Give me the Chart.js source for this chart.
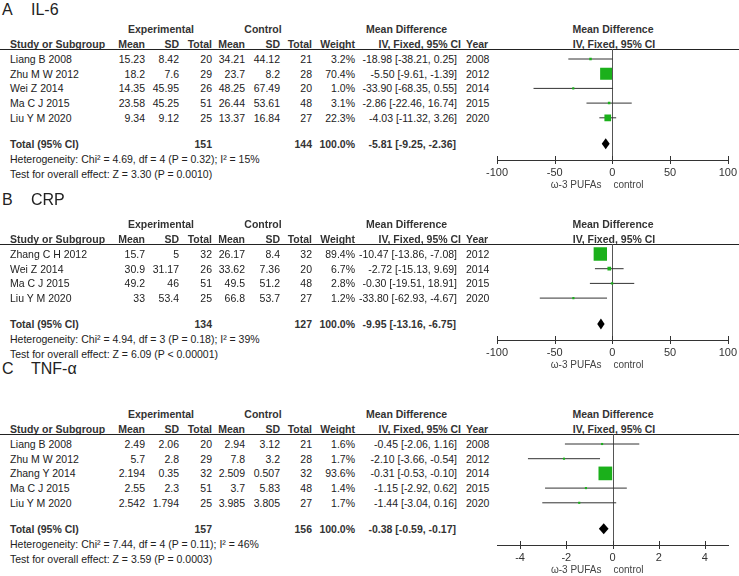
<!DOCTYPE html>
<html>
<head>
<meta charset="utf-8">
<script src="https://cdn.jsdelivr.net/npm/chart.js@4.4.0/dist/chart.umd.min.js"></script>
<style>
body { margin:0; background:#fff; width:739px; height:576px; overflow:hidden; position:relative;
       font-family:"Liberation Sans", Arial, sans-serif; color:#222; }
.t { position:absolute; white-space:nowrap; font-size:10.5px; line-height:14px; height:14px; }
.b { font-weight:bold; color:#333; }
.ttl { position:absolute; white-space:nowrap; font-size:16px; line-height:20px; height:20px; color:#222; }
.hline { position:absolute; left:0; width:739px; height:1px; background:#222; }
.box { position:absolute; left:470px; width:269px; }
</style>
</head>
<body>
<script>
// ---- A: IL-6 ----
var studiesA = ['Liang B 2008', 'Zhu M W 2012', 'Wei Z 2014', 'Ma C J 2015', 'Liu Y M 2020'];
var expMeanA = [15.23, 18.2, 14.35, 23.58, 9.34];
var expSdA = [8.42, 7.6, 45.95, 45.25, 9.12];
var expNA = [20, 29, 26, 51, 25];
var ctlMeanA = [34.21, 23.7, 48.25, 26.44, 13.37];
var ctlSdA = [44.12, 8.2, 67.49, 53.61, 16.84];
var ctlNA = [21, 28, 20, 48, 27];
var weightA = [3.2, 70.4, 1.0, 3.1, 22.3];
var mdA = [-18.98, -5.50, -33.90, -2.86, -4.03];
var loA = [-38.21, -9.61, -68.35, -22.46, -11.32];
var hiA = [0.25, -1.39, 0.55, 16.74, 3.26];
var yearA = [2008, 2012, 2014, 2015, 2020];
var totalA = [-5.81, -9.25, -2.36];
var totalNA = [151, 144];
var hetA = 'Heterogeneity: Chi\u00b2 = 4.69, df = 4 (P = 0.32); I\u00b2 = 15%';
var testA = 'Test for overall effect: Z = 3.30 (P = 0.0010)';
var ticksA = [-100, -50, 0, 50, 100];

// ---- B: CRP ----
var studiesB = ['Zhang C H 2012', 'Wei Z 2014', 'Ma C J 2015', 'Liu Y M 2020'];
var expMeanB = [15.7, 30.9, 49.2, 33];
var expSdB = [5, 31.17, 46, 53.4];
var expNB = [32, 26, 51, 25];
var ctlMeanB = [26.17, 33.62, 49.5, 66.8];
var ctlSdB = [8.4, 7.36, 51.2, 53.7];
var ctlNB = [32, 20, 48, 27];
var weightB = [89.4, 6.7, 2.8, 1.2];
var mdB = [-10.47, -2.72, -0.30, -33.80];
var loB = [-13.86, -15.13, -19.51, -62.93];
var hiB = [-7.08, 9.69, 18.91, -4.67];
var yearB = [2012, 2014, 2015, 2020];
var totalB = [-9.95, -13.16, -6.75];
var totalNB = [134, 127];
var hetB = 'Heterogeneity: Chi\u00b2 = 4.94, df = 3 (P = 0.18); I\u00b2 = 39%';
var testB = 'Test for overall effect: Z = 6.09 (P < 0.00001)';
var ticksB = [-100, -50, 0, 50, 100];

// ---- C: TNF-a ----
var studiesC = ['Liang B 2008', 'Zhu M W 2012', 'Zhang Y 2014', 'Ma C J 2015', 'Liu Y M 2020'];
var expMeanC = [2.49, 5.7, 2.194, 2.55, 2.542];
var expSdC = [2.06, 2.8, 0.35, 2.3, 1.794];
var expNC = [20, 29, 32, 51, 25];
var ctlMeanC = [2.94, 7.8, 2.509, 3.7, 3.985];
var ctlSdC = [3.12, 3.2, 0.507, 5.83, 3.805];
var ctlNC = [21, 28, 32, 48, 27];
var weightC = [1.6, 1.7, 93.6, 1.4, 1.7];
var mdC = [-0.45, -2.10, -0.31, -1.15, -1.44];
var loC = [-2.06, -3.66, -0.53, -2.92, -3.04];
var hiC = [1.16, -0.54, -0.10, 0.62, 0.16];
var yearC = [2008, 2012, 2014, 2015, 2020];
var totalC = [-0.38, -0.59, -0.17];
var totalNC = [157, 156];
var hetC = 'Heterogeneity: Chi\u00b2 = 7.44, df = 4 (P = 0.11); I\u00b2 = 46%';
var testC = 'Test for overall effect: Z = 3.59 (P = 0.0003)';
var ticksC = [-4, -2, 0, 2, 4];

var ROW = 14.7;       // px between study rows
var FIRST = 10;       // header line -> first row
var TOT = 26;         // last row -> total row
var AXIS = 42;        // last row -> x axis line
var GREEN = '#1bb01b';

function txt(s, x, y, align, cls) {
    var d = document.createElement('div');
    d.className = 't' + (cls ? ' ' + cls : '');
    d.textContent = s;
    if (align === 'r') { d.style.left = (x - 300) + 'px'; d.style.width = '300px'; d.style.textAlign = 'right'; }
    else if (align === 'c') { d.style.left = (x - 150) + 'px'; d.style.width = '300px'; d.style.textAlign = 'center'; }
    else { d.style.left = x + 'px'; }
    d.style.top = (y - 7) + 'px';
    document.body.appendChild(d);
}

function ci(m, l, h) {
    return m.toFixed(2) + ' [' + l.toFixed(2) + ', ' + h.toFixed(2) + ']';
}

// draws zero line, crossing tick marks, diamond and the direction labels
var forestDecor = {
    id: 'forestDecor',
    beforeDatasetsDraw: function(chart) {
        var ctx = chart.ctx, x = chart.scales.x, a = chart.chartArea;
        var x0 = Math.round(x.getPixelForValue(0)) + 0.5;
        ctx.save();
        ctx.strokeStyle = '#555';
        ctx.lineWidth = 1;
        ctx.beginPath();
        ctx.moveTo(x0, a.top);
        ctx.lineTo(x0, a.bottom);
        ctx.stroke();
        ctx.restore();
    },
    afterDraw: function(chart) {
        var ctx = chart.ctx, x = chart.scales.x, y = chart.scales.y, a = chart.chartArea;
        var p = chart.options.plugins.forestDecor;
        ctx.save();
        ctx.strokeStyle = '#333';
        ctx.lineWidth = 1;
        x.ticks.forEach(function(t) {
            var px = Math.round(x.getPixelForValue(t.value)) + 0.5;
            ctx.beginPath();
            ctx.moveTo(px, a.bottom - 4);
            ctx.lineTo(px, a.bottom + 4);
            ctx.stroke();
        });
        // summary diamond
        var ty = y.getPixelForValue(p.totalY);
        ctx.fillStyle = '#000';
        ctx.beginPath();
        ctx.moveTo(x.getPixelForValue(p.total[1]), ty);
        ctx.lineTo(x.getPixelForValue(p.total[0]), ty - 5.5);
        ctx.lineTo(x.getPixelForValue(p.total[2]), ty);
        ctx.lineTo(x.getPixelForValue(p.total[0]), ty + 5.5);
        ctx.closePath();
        ctx.fill();
        // favours labels
        var x0 = x.getPixelForValue(0);
        ctx.fillStyle = '#444';
        ctx.font = '10px "Liberation Sans", Arial, sans-serif';
        ctx.textBaseline = 'middle';
        ctx.textAlign = 'right';
        ctx.fillText('\u03c9-3 PUFAs', x0 - 11, a.bottom + 25);
        ctx.textAlign = 'left';
        ctx.fillText('control', x0 + 1, a.bottom + 25);
        ctx.restore();
    }
};

function panel(p) {
    var n = p.studies.length;
    var base = p.base;
    // title
    var t1 = document.createElement('div');
    t1.className = 'ttl'; t1.textContent = p.letter;
    t1.style.left = '2px'; t1.style.top = (p.titleY - 10) + 'px';
    document.body.appendChild(t1);
    var t2 = document.createElement('div');
    t2.className = 'ttl'; t2.textContent = p.name;
    t2.style.left = '31px'; t2.style.top = (p.titleY - 10) + 'px';
    document.body.appendChild(t2);

    // headers
    var h1 = base - 20, h2 = base - 5;
    txt('Experimental', 161, h1, 'c', 'b');
    txt('Control', 263, h1, 'c', 'b');
    txt('Mean Difference', 366, h1, 'l', 'b');
    txt('Mean Difference', 613, h1, 'c', 'b');
    txt('Study or Subgroup', 10, h2, 'l', 'b');
    txt('Mean', 145, h2, 'r', 'b');
    txt('SD', 179, h2, 'r', 'b');
    txt('Total', 212, h2, 'r', 'b');
    txt('Mean', 245, h2, 'r', 'b');
    txt('SD', 280, h2, 'r', 'b');
    txt('Total', 312, h2, 'r', 'b');
    txt('Weight', 355, h2, 'r', 'b');
    txt('IV, Fixed, 95% CI', 461, h2, 'r', 'b');
    txt('Year', 466, h2, 'l', 'b');
    txt('IV, Fixed, 95% CI', 614, h2, 'c', 'b');
    var ln = document.createElement('div');
    ln.className = 'hline'; ln.style.top = base + 'px';
    document.body.appendChild(ln);

    // study rows
    for (var i = 0; i < n; i++) {
        var ry = base + FIRST + i * ROW;
        txt(p.studies[i], 10, ry, 'l');
        txt(String(p.expMean[i]), 145, ry, 'r');
        txt(String(p.expSd[i]), 179, ry, 'r');
        txt(String(p.expN[i]), 212, ry, 'r');
        txt(String(p.ctlMean[i]), 245, ry, 'r');
        txt(String(p.ctlSd[i]), 280, ry, 'r');
        txt(String(p.ctlN[i]), 312, ry, 'r');
        txt(p.weight[i].toFixed(1) + '%', 355, ry, 'r');
        txt(ci(p.md[i], p.lo[i], p.hi[i]), 457, ry, 'r');
        txt(String(p.year[i]), 466, ry, 'l');
    }
    var ty = base + FIRST + (n - 1) * ROW + TOT;
    txt('Total (95% CI)', 10, ty, 'l', 'b');
    txt(String(p.totalN[0]), 212, ty, 'r', 'b');
    txt(String(p.totalN[1]), 312, ty, 'r', 'b');
    txt('100.0%', 355, ty, 'r', 'b');
    txt(ci(p.total[0], p.total[1], p.total[2]), 456, ty, 'r', 'b');
    txt(p.het, 10, ty + 15, 'l');
    txt(p.test, 10, ty + 30, 'l');

    // forest plot
    var plotH = Math.round(FIRST + (n - 1) * ROW + AXIS);
    var H = plotH + 35;
    var box = document.createElement('div');
    box.className = 'box';
    box.style.top = base + 'px';
    box.style.height = H + 'px';
    var cv = document.createElement('canvas');
    cv.width = 269; cv.height = H;
    box.appendChild(cv);
    document.body.appendChild(box);

    var datasets = [{
        data: p.md.map(function(v, k) { return {x: v, y: k}; }),
        pointStyle: 'rect',
        pointRadius: p.weight.map(function(w) { return Math.max(1.5, Math.sqrt(w)); }),
        backgroundColor: GREEN,
        borderWidth: 0,
        order: 0
    }];
    p.lo.forEach(function(l, k) {
        datasets.push({
            data: [{x: l, y: k}, {x: p.hi[k], y: k}],
            showLine: true,
            pointRadius: 0,
            borderColor: '#333',
            borderWidth: 1,
            order: 1
        });
    });

    new Chart(cv, {
        type: 'scatter',
        data: { datasets: datasets },
        plugins: [forestDecor],
        options: {
            responsive: false,
            devicePixelRatio: 1,
            animation: false,
            events: [],
            layout: { autoPadding: false, padding: { left: 27, right: 11, top: 0, bottom: 15 } },
            plugins: {
                legend: { display: false },
                tooltip: { enabled: false },
                forestDecor: { total: p.total, totalY: (n - 1) + TOT / ROW }
            },
            scales: {
                x: {
                    type: 'linear',
                    min: p.xMin, max: p.xMax,
                    afterBuildTicks: function(s) { s.ticks = p.ticks.map(function(v) { return {value: v}; }); },
                    afterFit: function(s) { s.height = 20; },
                    grid: { display: false, drawTicks: true, tickLength: 4 },
                    border: { display: true, color: '#333', width: 1 },
                    ticks: { padding: 2, color: '#333', autoSkip: false, maxRotation: 0,
                             font: { size: 11, family: '"Liberation Sans", Arial, sans-serif' } }
                },
                y: {
                    type: 'linear', display: false, reverse: true,
                    min: -FIRST / ROW, max: -FIRST / ROW + plotH / ROW
                }
            }
        }
    });
}

panel({ letter: 'A', name: 'IL-6', titleY: 10, base: 49,
        studies: studiesA, expMean: expMeanA, expSd: expSdA, expN: expNA,
        ctlMean: ctlMeanA, ctlSd: ctlSdA, ctlN: ctlNA, weight: weightA,
        md: mdA, lo: loA, hi: hiA, year: yearA, total: totalA, totalN: totalNA,
        het: hetA, test: testA, ticks: ticksA, xMin: -100, xMax: 100 });
panel({ letter: 'B', name: 'CRP', titleY: 200, base: 244,
        studies: studiesB, expMean: expMeanB, expSd: expSdB, expN: expNB,
        ctlMean: ctlMeanB, ctlSd: ctlSdB, ctlN: ctlNB, weight: weightB,
        md: mdB, lo: loB, hi: hiB, year: yearB, total: totalB, totalN: totalNB,
        het: hetB, test: testB, ticks: ticksB, xMin: -100, xMax: 100 });
panel({ letter: 'C', name: 'TNF-\u03b1', titleY: 369, base: 434,
        studies: studiesC, expMean: expMeanC, expSd: expSdC, expN: expNC,
        ctlMean: ctlMeanC, ctlSd: ctlSdC, ctlN: ctlNC, weight: weightC,
        md: mdC, lo: loC, hi: hiC, year: yearC, total: totalC, totalN: totalNC,
        het: hetC, test: testC, ticks: ticksC, xMin: -5, xMax: 5 });
</script>
</body>
</html>
